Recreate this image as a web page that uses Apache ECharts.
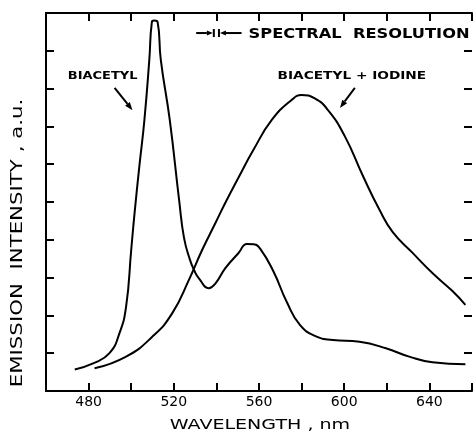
<!DOCTYPE html>
<html><head><meta charset="utf-8">
<script src="https://cdn.jsdelivr.net/npm/echarts@6/dist/echarts.min.js"></script>
<style>html,body{margin:0;padding:0;background:#fff}#c{width:475px;height:434px}</style>
</head><body><div id="c"></div>
<script>
// Wavelength (nm) and emission intensity (a.u.)
const biacetylX = [473.5, 482.1, 489.8, 494.5, 497.6, 500.0, 501.5, 503.8, 506.2, 508.5, 509.7, 510.8, 512.4, 513.9, 518.1, 522.5, 524.8, 527.6, 529.5, 531.8, 536.5, 539.6, 544.2, 550.4, 554.3, 557.5, 560.6, 566.8, 573.0, 579.2, 587.0, 594.7, 607.2, 619.6, 630.5, 641.4, 656.9];
const biacetylY = [0.57, 0.73, 1.00, 1.53, 2.23, 3.73, 4.66, 5.93, 7.17, 8.76, 9.76, 9.80, 9.76, 8.76, 7.17, 5.05, 4.05, 3.47, 3.20, 2.98, 2.72, 2.85, 3.25, 3.65, 3.89, 3.88, 3.76, 3.16, 2.36, 1.75, 1.44, 1.35, 1.30, 1.13, 0.91, 0.76, 0.71];
const iodineX = [482.8, 497.6, 510.0, 519.3, 527.1, 533.3, 539.6, 544.2, 550.4, 557.4, 566.0, 575.3, 580.0, 586.2, 592.4, 600.2, 608.7, 616.5, 622.7, 632.0, 641.4, 650.7, 656.9];
const iodineY = [0.60, 0.91, 1.44, 2.06, 2.94, 3.73, 4.45, 4.98, 5.65, 6.38, 7.17, 7.70, 7.83, 7.74, 7.43, 6.75, 5.70, 4.80, 4.21, 3.66, 3.12, 2.65, 2.28];
const xTickLabels = [480, 520, 560, 600, 640];
const xTitle = 'WAVELENGTH , nm';
const yTitle = 'EMISSION  INTENSITY , a.u.';
const labelBiacetyl = 'BIACETYL';
const labelIodine = 'BIACETYL + IODINE';
const labelResolution = 'SPECTRAL  RESOLUTION';
// spectral resolution bars (nm)
const resolutionBars = [538.8, 541.2];

const FONT = 'DejaVu Sans';
const chart = echarts.init(document.getElementById('c'));
const axisLineStyle = () => ({show: true, onZero: false, lineStyle: {color: '#000', width: 2}});
const tickStyle = () => ({show: true, inside: true, length: 8, lineStyle: {color: '#000', width: 2}});
const toPairs = (xs, ys) => xs.map((x, i) => [x, ys[i]]);

chart.setOption({
  animation: false,
  backgroundColor: '#fff',
  grid: {left: 46, right: 0, top: 13, bottom: 43},
  xAxis: [
    {type: 'value', min: 460, max: 660, interval: 20, position: 'bottom',
     axisLine: axisLineStyle(), axisTick: tickStyle(), splitLine: {show: false},
     axisLabel: {formatter: v => xTickLabels.includes(v) ? String(v) : '', color: '#000', fontSize: 14, fontFamily: FONT, margin: 4}},
    {type: 'value', min: 460, max: 660, interval: 20, position: 'top',
     axisLine: axisLineStyle(), axisTick: tickStyle(), splitLine: {show: false}, axisLabel: {show: false}}
  ],
  yAxis: [
    {type: 'value', min: 0, max: 10, interval: 1, position: 'left',
     axisLine: axisLineStyle(), axisTick: tickStyle(), splitLine: {show: false}, axisLabel: {show: false}},
    {type: 'value', min: 0, max: 10, interval: 1, position: 'right',
     axisLine: {show: false, onZero: false}, axisTick: tickStyle(), splitLine: {show: false}, axisLabel: {show: false}}
  ],
  series: [
    {name: labelBiacetyl, type: 'line', data: toPairs(biacetylX, biacetylY), smooth: 0.5, showSymbol: false,
     lineStyle: {color: '#000', width: 2}},
    {name: labelIodine, type: 'line', data: toPairs(iodineX, iodineY), smooth: 0.5, showSymbol: false,
     lineStyle: {color: '#000', width: 2}}
  ]
});

const P = (x, y) => chart.convertToPixel({xAxisIndex: 0, yAxisIndex: 0}, [x, y]);
function arrow(a, b, len, hw) {
  const dx = b[0] - a[0], dy = b[1] - a[1];
  const L = Math.hypot(dx, dy), ux = dx / L, uy = dy / L;
  const base = [b[0] - ux * len, b[1] - uy * len];
  return [
    {type: 'line', shape: {x1: a[0], y1: a[1], x2: base[0], y2: base[1]}, style: {stroke: '#000', lineWidth: 2}},
    {type: 'polygon', shape: {points: [b, [base[0] - uy * hw, base[1] + ux * hw], [base[0] + uy * hw, base[1] - ux * hw]]}, style: {fill: '#000'}}
  ];
}
const g = [];
// axis titles
g.push({type: 'text', x: 260, y: 425, scaleX: 1.36, style: {text: xTitle, font: '14px ' + FONT, fill: '#000', align: 'center', verticalAlign: 'middle'}});
g.push({type: 'text', x: 18, y: 243, rotation: Math.PI / 2, scaleX: 1.42, style: {text: yTitle, font: '15px ' + FONT, fill: '#000', align: 'center', verticalAlign: 'middle'}});
// annotations
const pB = P(486.6, 8.31);
g.push({type: 'text', x: pB[0], y: pB[1], scaleX: 1.3, style: {text: labelBiacetyl, font: 'bold 10px ' + FONT, fill: '#000', align: 'center', verticalAlign: 'middle'}});
g.push(...arrow(P(492.2, 8.02), P(500.6, 7.43), 8, 3));
const pI = P(603.6, 8.31);
g.push({type: 'text', x: pI[0], y: pI[1], scaleX: 1.37, style: {text: labelIodine, font: 'bold 10px ' + FONT, fill: '#000', align: 'center', verticalAlign: 'middle'}});
g.push(...arrow(P(605.0, 8.02), P(598.0, 7.49), 8, 3));
const pR = P(555.1, 9.45);
g.push({type: 'text', x: pR[0], y: pR[1], scaleX: 1.12, style: {text: labelResolution, font: 'bold 14.5px ' + FONT, fill: '#000', align: 'left', verticalAlign: 'middle'}});
// resolution marker
const b1 = P(resolutionBars[0], 9.47), b2 = P(resolutionBars[1], 9.47);
g.push({type: 'line', shape: {x1: b1[0], y1: b1[1] - 4, x2: b1[0], y2: b1[1] + 4}, style: {stroke: '#000', lineWidth: 2}});
g.push({type: 'line', shape: {x1: b2[0], y1: b2[1] - 4, x2: b2[0], y2: b2[1] + 4}, style: {stroke: '#000', lineWidth: 2}});
g.push(...arrow(P(530.5, 9.47), [b1[0] - 1, b1[1]], 6, 2.5));
g.push(...arrow(P(551.8, 9.47), [b2[0] + 1, b2[1]], 6, 2.5));
chart.setOption({graphic: {elements: g}});
</script>
</body></html>
